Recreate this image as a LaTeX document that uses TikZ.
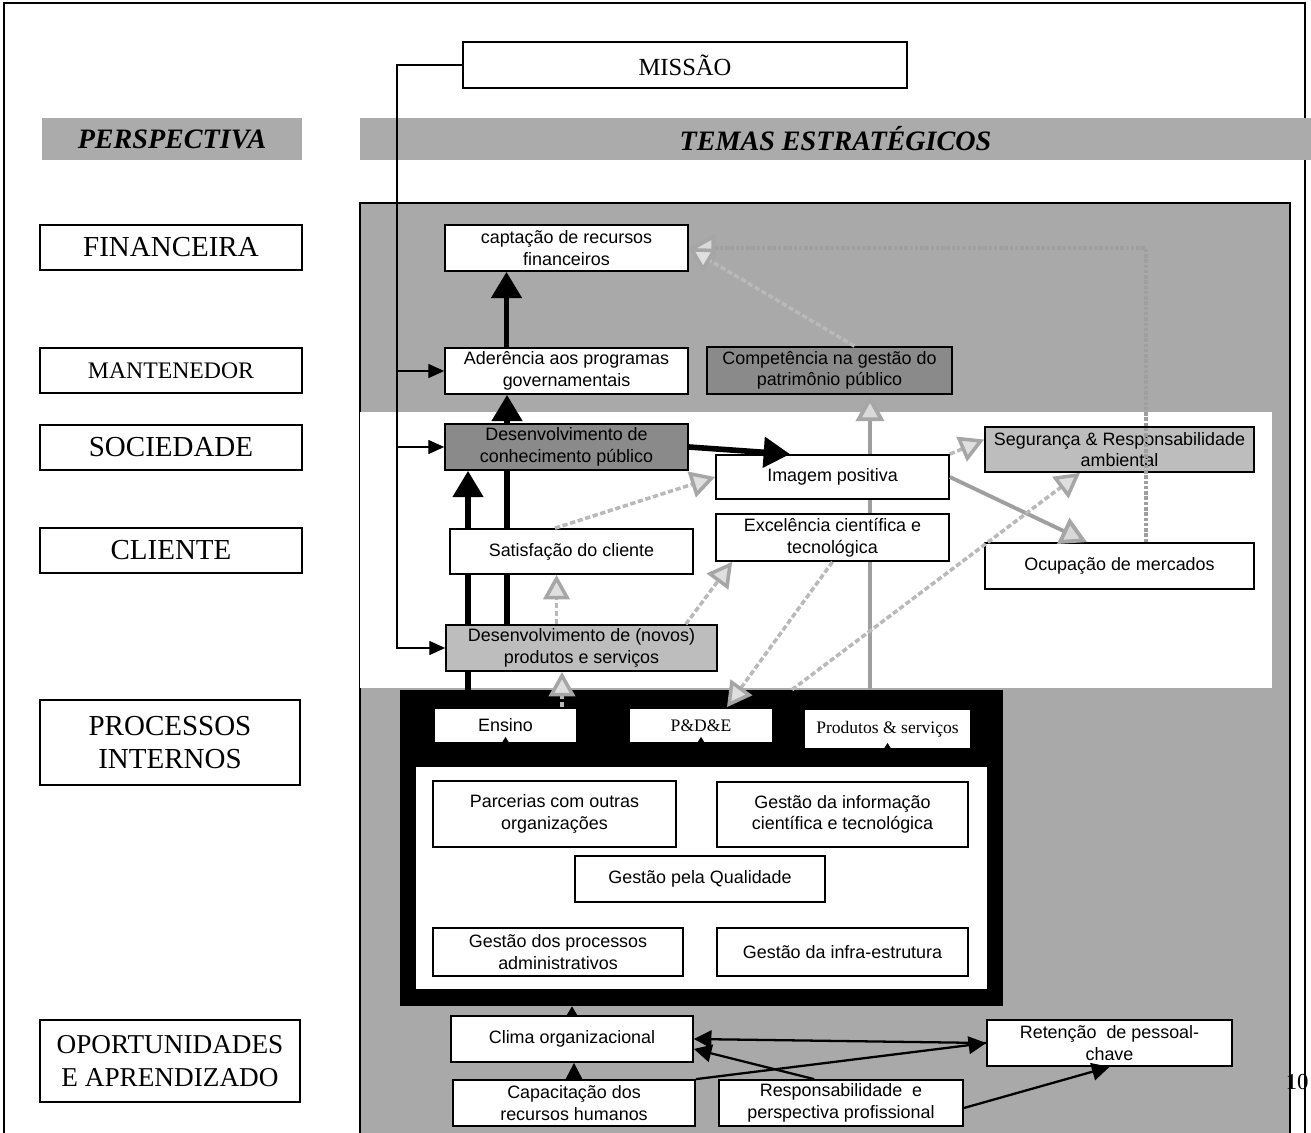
\documentclass[tikz,border=0pt]{standalone}
\usepackage{fontspec}
\setmainfont{Liberation Serif}
\setsansfont{Liberation Sans}
\usetikzlibrary{arrows.meta}
\definecolor{areacinza}{HTML}{A9A9A9}
\definecolor{barracinza}{HTML}{ABABAB}
\definecolor{caixaescura}{HTML}{8A8A8A}
\definecolor{caixamedia}{HTML}{BDBDBD}
\pgfdeclarelayer{fundo}
\pgfdeclarelayer{meio}
\pgfsetlayers{fundo,meio,main}

\begin{document}
\begin{tikzpicture}[x=0.02cm, y=-0.02cm,
    persp/.style={draw, fill=white, line width=0.8pt, font=\fontsize{16.5}{18.7}\selectfont, align=center, minimum width=5.24cm, minimum height=0.9cm, inner sep=1pt},
    tema/.style={draw, fill=white, line width=1pt, font=\sffamily\fontsize{10.2}{12.3}\selectfont, align=center, inner sep=1pt},
    barra/.style={fill=barracinza, font=\fontsize{16}{18}\selectfont\bfseries\itshape, inner sep=0pt, minimum height=0.84cm},
    forte/.style={line width=3.2pt, -{Triangle[width=17pt,length=15pt]}},
    fina/.style={line width=0.6pt, -{Triangle[width=8pt,length=9pt]}},
    media/.style={line width=1.3pt, -{Triangle[width=10pt,length=10pt]}},
    clara/.style={gray!55, line width=2pt, dash pattern=on 3pt off 1.5pt, -{Triangle[width=15pt,length=14pt,color=gray!70,fill=gray!25]}},
    cinza/.style={gray!75, line width=2.2pt, -{Triangle[width=16pt,length=15pt,color=gray!70,fill=gray!30]}}
  ]
  \useasboundingbox (0,0) rectangle (1311,1132);

  \begin{pgfonlayer}{fundo}
    \fill[areacinza] (360,203) rectangle (1290,1140);
    \draw[line width=0.6pt] (360,1140) -- (360,203) -- (1290,203) -- (1290,1140);
    \fill[white] (360,412) rectangle (1272,688);
  \end{pgfonlayer}

  \draw[line width=0.8pt] (4,1140) -- (4,3) -- (1305,3) -- (1305,1140);

  \node[draw, fill=white, line width=0.8pt, minimum width=8.88cm, minimum height=0.92cm, font=\fontsize{14}{16}\selectfont] (miss) at (685,65) {MISSÃO};
  \node[barra, minimum width=5.2cm] (persp) at (172,139) {PERSPECTIVA};
  \node[barra, minimum width=19.02cm] (temas) at (835.5,139) {TEMAS ESTRATÉGICOS};

  \node[persp] (fin) at (171,247.5) {FINANCEIRA};
  \node[persp, font=\fontsize{13.5}{15}\selectfont] (man) at (171,370.5) {MANTENEDOR};
  \node[persp] (soc) at (171,447.5) {SOCIEDADE};
  \node[persp] (cli) at (171,550.5) {CLIENTE};
  \node[persp, minimum width=5.2cm, minimum height=1.7cm] (pint) at (170,742.5) {PROCESSOS\\INTERNOS};
  \node[persp, font=\fontsize{15.5}{18.7}\selectfont, minimum width=5.2cm, minimum height=1.64cm] (opo) at (170,1061) {OPORTUNIDADES\\E APRENDIZADO};

  \node[tema, minimum width=4.86cm, minimum height=0.92cm] (capt) at (566.5,248) {captação de recursos\\financeiros};
  \node[tema, minimum width=4.86cm, minimum height=0.92cm] (ader) at (566.5,371) {Aderência aos programas\\governamentais};
  \node[tema, fill=caixaescura, minimum width=4.9cm, minimum height=0.94cm] (comp) at (829.5,370.5) {Competência na gestão do\\patrimônio público};
  \node[tema, fill=caixaescura, minimum width=4.86cm, minimum height=0.92cm] (desc) at (566.5,447) {Desenvolvimento de\\conhecimento público};
  \node[tema, minimum width=4.66cm, minimum height=0.88cm] (imag) at (832.5,477) {Imagem positiva};
  \node[tema, fill=caixamedia, minimum width=5.38cm, minimum height=0.9cm] (segu) at (1119.5,449.5) {Segurança \& Responsabilidade\\ambiental};
  \node[tema, minimum width=4.66cm, minimum height=0.94cm] (exce) at (832.5,537.5) {Excelência científica e\\tecnológica};
  \node[tema, minimum width=4.86cm, minimum height=0.9cm] (sati) at (571.5,551.5) {Satisfação do cliente};
  \node[tema, minimum width=5.38cm, minimum height=0.92cm] (ocup) at (1119.5,566) {Ocupação de mercados};
  \node[tema, fill=caixamedia, minimum width=5.42cm, minimum height=0.92cm] (desn) at (581.5,648) {Desenvolvimento de (novos)\\produtos e serviços};

  \node[fill=black, minimum width=12.06cm, minimum height=6.32cm, inner sep=0pt] (proc) at (701.5,848) {};
  \node[fill=white, minimum width=11.42cm, minimum height=4.44cm, inner sep=0pt] (procin) at (701.5,878) {};
  \node[tema, minimum width=2.86cm, minimum height=0.7cm] (ensi) at (505.5,725.5) {Ensino};
  \node[tema, font=\fontsize{10}{12}\selectfont, minimum width=2.88cm, minimum height=0.7cm] (pdde) at (701,725.5) {P\&D\&E};
  \node[tema, font=\fontsize{10}{12}\selectfont, minimum width=3.34cm, minimum height=0.8cm] (prod) at (887.5,729) {Produtos \& serviços};
  \node[tema, minimum width=4.86cm, minimum height=1.32cm] (parc) at (554.5,814) {Parcerias com outras\\organizações};
  \node[tema, minimum width=5.02cm, minimum height=1.3cm] (ginf) at (842.5,814.5) {Gestão da informação\\científica e tecnológica};
  \node[tema, minimum width=5cm, minimum height=0.92cm] (gqua) at (700,879) {Gestão pela Qualidade};
  \node[tema, minimum width=5cm, minimum height=0.96cm] (gpro) at (558,952) {Gestão dos processos\\administrativos};
  \node[tema, minimum width=5.02cm, minimum height=0.96cm] (gifr) at (842.5,952) {Gestão da infra-estrutura};

  \node[tema, minimum width=4.84cm, minimum height=0.92cm] (clim) at (572,1039) {Clima organizacional};
  \node[tema, minimum width=4.9cm, minimum height=0.92cm] (rete) at (1109.5,1043) {Retenção \ de pessoal-\\chave};
  \node[tema, minimum width=4.84cm, minimum height=0.92cm] (capa) at (574,1103) {Capacitação dos\\recursos humanos};
  \node[tema, minimum width=4.88cm, minimum height=0.92cm] (resp) at (841,1103) {Responsabilidade \ e\\perspectiva profissional};
  \node[anchor=east, inner sep=0pt, font=\fontsize{13}{13}\selectfont] (pag) at (1309,1082) {10};

  \begin{pgfonlayer}{meio}
    \draw[forte] ([xshift=-1.97cm]desc.south |- proc.north) -- ([xshift=-1.97cm]desc.south);
    \draw[forte] ([xshift=-1.19cm]ader.south |- desn.north) -- ([xshift=-1.19cm]ader.south);
    \draw[cinza] ([xshift=0.81cm]comp.south |- proc.north) -- ([xshift=0.81cm]comp.south);
  \end{pgfonlayer}

  \coordinate (tronco) at (397,65);
  \draw[fina] (miss.west) -- (tronco) |- (desn.west);
  \draw[fina] (tronco |- ader.west) -- (ader.west);
  \draw[fina] (tronco |- desc.west) -- (desc.west);

  \draw[forte] ([xshift=-1.2cm]ader.north) -- ([xshift=-1.2cm]capt.south);
  \draw[forte] (desc.east) -- ([xshift=-0.85cm]imag.north);
  \draw[cinza] (imag.east) -- ([xshift=-0.65cm]ocup.north);
  \draw[cinza, dash pattern=on 2pt off 1pt] ([xshift=0.53cm]ocup.north) |- (capt.east);
  \draw[clara] ([xshift=0.5cm]comp.north) -- (capt.east);
  \draw[clara] (imag.north east) -- ([yshift=0.2cm]segu.west);
  \draw[clara] ([xshift=-0.33cm]sati.north) -- (imag.west);
  \draw[clara] ([xshift=-0.5cm]desn.north) -- ([xshift=-0.5cm]desn.north |- sati.south);
  \draw[clara] ([xshift=1.13cm]ensi.north) -- ([xshift=1.13cm]ensi.north |- desn.south);
  \draw[clara] ([xshift=-0.64cm]desn.north east) -- ([xshift=0.34cm]exce.south west);
  \draw[clara] (exce.south) -- ([xshift=0.52cm]pdde.north);
  \draw[clara] ([xshift=-1.91cm]prod.north |- proc.north) -- ([xshift=-0.79cm]segu.south);

  \foreach \n in {ensi,pdde,prod}
    \draw[line width=0.6pt, -{Triangle[width=6pt,length=5pt]}, shorten >=-4pt] (\n.south |- procin.north) -- (\n.south);

  \draw[line width=0.6pt, -{Triangle[width=7pt,length=6pt]}] (clim.north) -- (clim.north |- proc.south);
  \draw[media] (capa.north) -- (capa.north |- clim.south);
  \draw[media] (rete.west) -- (clim.east);
  \draw[media] (capa.north east) -- (rete.west);
  \draw[media] ([xshift=1.92cm]resp.north west) -- ([yshift=-0.2cm]clim.east);
  \draw[media] ([yshift=-0.1cm]resp.east) -- (rete.south);
\end{tikzpicture}
\end{document}
